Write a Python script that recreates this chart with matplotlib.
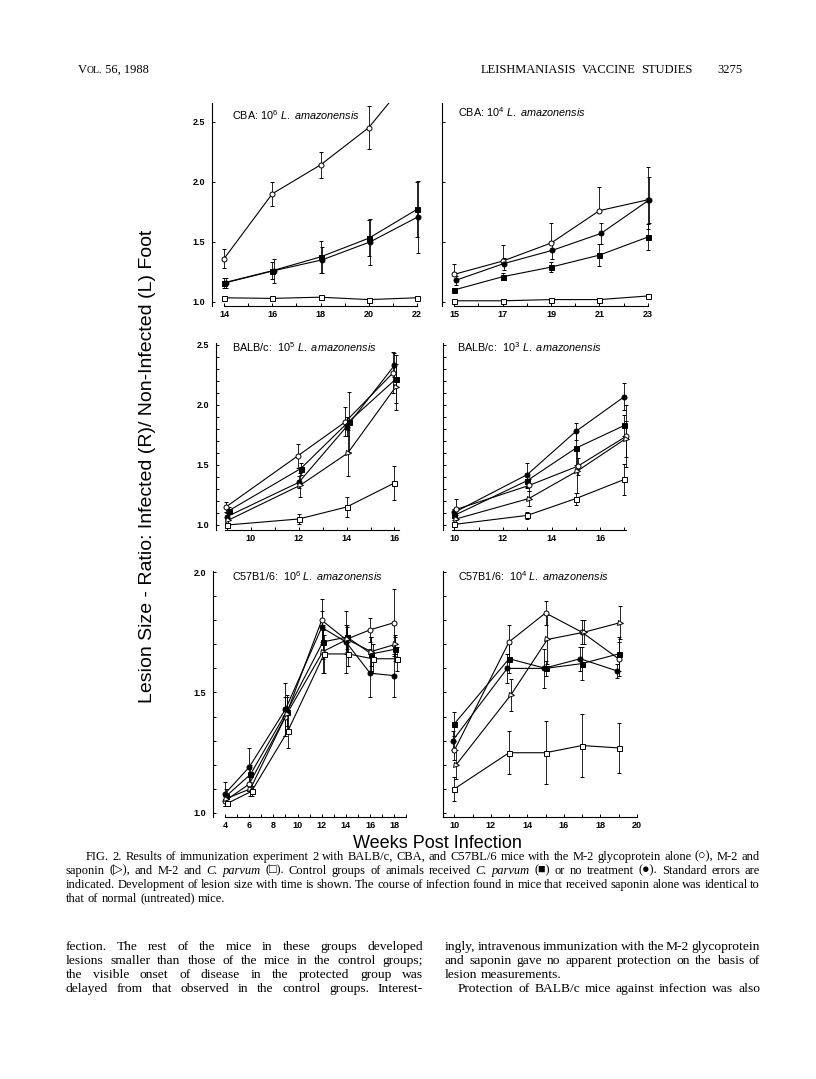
import matplotlib.pyplot as plt
from matplotlib.ticker import FixedLocator, MultipleLocator

plt.rcParams['font.family'] = ['Liberation Sans', 'DejaVu Sans']
plt.rcParams['mathtext.fontset'] = 'custom'
plt.rcParams['mathtext.rm'] = 'Liberation Sans'
plt.rcParams['mathtext.it'] = 'Liberation Sans:italic'

SERIF = ['Liberation Serif', 'DejaVu Sans']

# ---- data (ratio R/L foot, weeks post infection) ----
# CBA: 10^6
cba6_weeks = [14, 16, 18, 20, 22]
cba6_m2 = [1.36, 1.90, 2.14, 2.45, 2.94]
cba6_m2_err = [0.08, 0.10, 0.11, 0.18, 0.0]
cba6_cparvum = [1.16, 1.26, 1.375, 1.53, 1.77]
cba6_cparvum_err = [0.04, 0.07, 0.13, 0.15, 0.23]
cba6_none = [1.16, 1.26, 1.35, 1.50, 1.71]
cba6_none_err = [0.04, 0.10, 0.11, 0.19, 0.30]
cba6_m2cp = [1.035, 1.03, 1.04, 1.02, 1.035]
cba6_m2cp_err = [0.01, 0.005, 0.01, 0.01, 0.005]

# CBA: 10^4
cba4_weeks = [15, 17, 19, 21, 23]
cba4_m2 = [1.23, 1.34, 1.49, 1.76, 1.85]
cba4_m2_err = [[0, 0, 0, 0, 0.24], [0.09, 0.13, 0.17, 0.20, 0.27]]
cba4_none = [1.18, 1.32, 1.43, 1.57, 1.85]
cba4_none_err = [0.04, 0.05, 0.07, 0.09, 0.19]
cba4_cparvum = [1.10, 1.21, 1.29, 1.39, 1.54]
cba4_cparvum_err = [0.01, 0.03, 0.04, 0.09, 0.11]
cba4_m2cp = [1.01, 1.01, 1.02, 1.02, 1.05]
cba4_m2cp_err = [0.005, 0.005, 0.005, 0.005, 0.015]

# BALB/c: 10^5
balb5_weeks = [9, 12, 14, 16]
balb5_m2 = [1.15, 1.575, 1.86, 2.27]
balb5_m2_err = [0.04, 0.10, 0.12, 0.17]
balb5_cparvum = [1.12, 1.47, 1.86, 2.22]
balb5_cparvum_err = [0.03, 0.05, 0.25, 0.20]
balb5_none = [1.07, 1.355, 1.82, 2.33]
balb5_none_err = [0.03, 0.05, 0.08, 0.10]
balb5_sap = [1.04, 1.33, 1.60, 2.15]
balb5_sap_err = [0.02, 0.10, 0.19, 0.19]
balb5_m2cp = [1.00, 1.05, 1.15, 1.35]
balb5_m2cp_err = [0.01, 0.04, 0.08, 0.14]

# BALB/c: 10^3
balb3_weeks = [10, 13, 15, 17]
balb3_none = [1.105, 1.42, 1.78, 2.07]
balb3_none_err = [0.03, 0.10, 0.07, 0.11]
balb3_cparvum = [1.08, 1.37, 1.64, 1.83]
balb3_cparvum_err = [0.04, 0.06, 0.14, 0.09]
balb3_m2 = [1.13, 1.33, 1.49, 1.74]
balb3_m2_err = [0.09, 0.05, 0.07, 0.26]
balb3_sap = [1.05, 1.22, 1.45, 1.72]
balb3_sap_err = [0.03, 0.06, 0.18, 0.15]
balb3_m2cp = [1.005, 1.08, 1.22, 1.38]
balb3_m2cp_err = [0.005, 0.03, 0.05, 0.13]

# C57B1/6: 10^6
c57_6_weeks = [4, 6, 9, 12, 14, 16, 18]
c57_6_m2 = [1.05, 1.12, 1.40, 1.80, 1.72, 1.76, 1.79]
c57_6_m2_err = [0.02, 0.03, 0.08, 0.09, 0.06, 0.05, 0.14]
c57_6_none = [1.08, 1.19, 1.43, 1.77, 1.71, 1.58, 1.57]
c57_6_none_err = [0.05, 0.08, 0.11, 0.07, 0.13, 0.10, 0.09]
c57_6_cparvum = [1.07, 1.16, 1.42, 1.71, 1.73, 1.66, 1.68]
c57_6_cparvum_err = [0.03, 0.04, 0.06, 0.07, 0.05, 0.07, 0.05]
c57_6_sap = [1.06, 1.10, 1.41, 1.67, 1.72, 1.67, 1.70]
c57_6_sap_err = [0.02, 0.03, 0.08, 0.09, 0.05, 0.06, 0.04]
c57_6_m2cp = [1.04, 1.09, 1.34, 1.66, 1.66, 1.64, 1.64]
c57_6_m2cp_err = [0.01, 0.02, 0.07, 0.08, 0.05, 0.06, 0.05]

# C57B1/6: 10^4
c57_4_weeks = [10, 13, 15, 17, 19]
c57_4_m2 = [1.26, 1.71, 1.83, 1.75, 1.64]
c57_4_m2_err = [0.04, 0.07, 0.05, 0.05, 0.07]
c57_4_sap = [1.20, 1.49, 1.72, 1.75, 1.79]
c57_4_sap_err = [0.06, 0.065, 0.10, 0.05, 0.07]
c57_4_cparvum = [1.37, 1.64, 1.60, 1.62, 1.66]
c57_4_cparvum_err = [0.05, 0.06, 0.03, 0.07, 0.07]
c57_4_none = [1.30, 1.60, 1.60, 1.64, 1.59]
c57_4_none_err = [0.04, 0.06, 0.08, 0.05, 0.03]
c57_4_m2cp = [1.10, 1.25, 1.25, 1.28, 1.27]
c57_4_m2cp_err = [0.05, 0.09, 0.13, 0.13, 0.105]

# marker per treatment group
STYLE = {
    'm2': dict(marker='o', mfc='white'),
    'sap': dict(marker='>', mfc='white'),
    'm2cp': dict(marker='s', mfc='white'),
    'cparvum': dict(marker='s', mfc='black'),
    'none': dict(marker='o', mfc='black'),
}

W, H = 816, 1079
fig = plt.figure(figsize=(W / 100, H / 100), dpi=100)


def add_ax(left, top, right, bottom):
    return fig.add_axes([left / W, 1 - bottom / H, (right - left) / W, (bottom - top) / H])


panels = [
    dict(box=(212, 103, 429, 305.6), xlim=(13.5, 22.5), ylim=(0.97, 2.655), weeks=cba6_weeks,
         xticks=range(14, 23), xlab=[14, 16, 18, 20, 22], ylab=True, minor=False, xb=(14, 22),
         title=r'CBA: 10$^{6}$ $\mathit{L.\ amazonensis}$', tpos=(232, 115),
         series=[('m2', cba6_m2, cba6_m2_err, 0), ('cparvum', cba6_cparvum, cba6_cparvum_err, 0),
                 ('none', cba6_none, cba6_none_err, 0.06), ('m2cp', cba6_m2cp, cba6_m2cp_err, 0)]),
    dict(box=(442, 103, 660, 305.6), xlim=(14.5, 23.5), ylim=(0.97, 2.655), weeks=cba4_weeks,
         xticks=range(15, 24), xlab=[15, 17, 19, 21, 23], ylab=False, minor=False, xb=(15, 23),
         title=r'CBA: 10$^{4}$ $\mathit{L.\ amazonensis}$', tpos=(458, 112),
         series=[('m2', cba4_m2, cba4_m2_err, 0), ('none', cba4_none, cba4_none_err, 0.06),
                 ('cparvum', cba4_cparvum, cba4_cparvum_err, 0), ('m2cp', cba4_m2cp, cba4_m2cp_err, 0)]),
    dict(box=(216.3, 342.6, 406.4, 529.8), xlim=(8.55, 16.5), ylim=(0.96, 2.52), weeks=balb5_weeks,
         xticks=range(9, 17), xlab=[10, 12, 14, 16], ylab=True, minor=True, xb=(8.9, 16.2),
         title=r'BALB/c:  10$^{5}$ $\mathit{L.\ amazonensis}$', tpos=(232, 347),
         series=[('m2', balb5_m2, balb5_m2_err, -0.05), ('cparvum', balb5_cparvum, balb5_cparvum_err, 0.08),
                 ('none', balb5_none, balb5_none_err, 0), ('sap', balb5_sap, balb5_sap_err, 0.05),
                 ('m2cp', balb5_m2cp, balb5_m2cp_err, 0)]),
    dict(box=(443.4, 342.6, 631.7, 529.8), xlim=(9.55, 17.3), ylim=(0.96, 2.52), weeks=balb3_weeks,
         xticks=range(10, 18), xlab=[10, 12, 14, 16], ylab=False, minor=True, xb=(9.9, 17.05),
         title=r'BALB/c:  10$^{3}$ $\mathit{L.\ amazonensis}$', tpos=(457, 347),
         series=[('none', balb3_none, balb3_none_err, 0), ('cparvum', balb3_cparvum, balb3_cparvum_err, 0),
                 ('m2', balb3_m2, balb3_m2_err, 0.08), ('sap', balb3_sap, balb3_sap_err, 0.06),
                 ('m2cp', balb3_m2cp, balb3_m2cp_err, 0)]),
    dict(box=(212.9, 570.8, 410, 816.6), xlim=(3.0, 19.3), ylim=(0.985, 2.005), weeks=c57_6_weeks,
         xticks=range(4, 20), xlab=[4, 6, 8, 10, 12, 14, 16, 18], ylab=True, minor=True, xb=(4, 19),
         title=r'C57B1/6:  10$^{6}$ $\mathit{L.\ amazonensis}$', tpos=(232, 576),
         series=[('m2', c57_6_m2, c57_6_m2_err, 0), ('none', c57_6_none, c57_6_none_err, 0),
                 ('cparvum', c57_6_cparvum, c57_6_cparvum_err, 0.1), ('sap', c57_6_sap, c57_6_sap_err, 0.1),
                 ('m2cp', c57_6_m2cp, c57_6_m2cp_err, 0.2)]),
    dict(box=(443.4, 570.8, 640.4, 816.6), xlim=(9.4, 20.2), ylim=(0.985, 2.005), weeks=c57_4_weeks,
         xticks=range(10, 21), xlab=[10, 12, 14, 16, 18, 20], ylab=False, minor=True, xb=(9.4, 20),
         title=r'C57B1/6:  10$^{4}$ $\mathit{L.\ amazonensis}$', tpos=(458, 576),
         series=[('m2', c57_4_m2, c57_4_m2_err, 0), ('sap', c57_4_sap, c57_4_sap_err, 0.1),
                 ('cparvum', c57_4_cparvum, c57_4_cparvum_err, 0), ('none', c57_4_none, c57_4_none_err, -0.1),
                 ('m2cp', c57_4_m2cp, c57_4_m2cp_err, 0)]),
]

for p in panels:
    ax = add_ax(*p['box'])
    ax.patch.set_alpha(0)
    for key, y, err, dx in p['series']:
        xs = [w + dx for w in p['weeks']]
        ax.errorbar(xs, y, yerr=err, color='black', lw=0.8, ms=3.6, mec='black', mew=0.7,
                    capsize=1.6, elinewidth=0.6, capthick=0.6, **STYLE[key])
    ax.set_xlim(*p['xlim'])
    ax.set_ylim(*p['ylim'])
    for s in ['top', 'right']:
        ax.spines[s].set_visible(False)
    ax.spines['bottom'].set_bounds(*p['xb'])
    ax.spines['left'].set_linewidth(0.8)
    ax.spines['bottom'].set_linewidth(0.8)
    ax.xaxis.set_major_locator(FixedLocator(list(p['xticks'])))
    ax.set_xticklabels([str(t) if t in p['xlab'] else '' for t in p['xticks']])
    ax.yaxis.set_major_locator(MultipleLocator(0.5))
    if p['minor']:
        ax.yaxis.set_minor_locator(MultipleLocator(0.1))
    if not p['ylab']:
        ax.set_yticklabels([])
    ax.tick_params(direction='in', length=2.5, width=0.7, labelsize=6.5, pad=3)
    ax.tick_params(which='minor', direction='in', length=2.5, width=0.7)
    ax.tick_params(axis='y', pad=5)
    for lab in ax.get_xticklabels() + ax.get_yticklabels():
        lab.set_fontweight('bold')
    fig.text(p['tpos'][0] / W, 1 - p['tpos'][1] / H, p['title'], fontsize=7.8, va='center', ha='left')

fig.text(148 / W, 1 - 466 / H, 'Lesion Size - Ratio: Infected (R)/ Non-Infected (L) Foot',
         rotation=90, ha='center', va='center', fontsize=14)
fig.text(437 / W, 1 - 843 / H, 'Weeks Post Infection', ha='center', va='center', fontsize=13)

# ---- page text (y given as line centre, drawn on a common baseline) ----
renderer = fig.canvas.get_renderer()


def put_line(text, x0, x1, y, size, justify=True):
    base = 1 - (y + size * 0.3) / H
    items = []
    for tok in text.split():
        style = 'normal'
        if tok.startswith('*'):
            tok, style = tok[1:], 'italic'
        t = fig.text(0, base, tok, fontsize=size, family=SERIF, style=style, va='baseline')
        items.append((t, t.get_window_extent(renderer).width))
    total = sum(w for _, w in items)
    gap = (x1 - x0 - total) / (len(items) - 1) if justify and len(items) > 1 else size * 100 / 72 * 0.25
    x = x0
    for t, w in items:
        t.set_x(x / W)
        x += w + gap


def put_pieces(pieces, x, y):
    for txt, size in pieces:
        t = fig.text(x / W, 1 - (y + 2.7) / H, txt, fontsize=size, family=SERIF, va='baseline')
        x += t.get_window_extent(renderer).width


put_pieces([('V', 9), ('OL.', 7), (' 56, 1988', 9)], 78, 70)
put_line('LEISHMANIASIS VACCINE STUDIES', 481, 693, 70, 9)
put_line('3275', 717, 747, 70, 9, justify=False)

cap = 9.0
put_line('FIG. 2. Results of immunization experiment 2 with BALB/c, CBA, and C57BL/6 mice with the '
         'M-2 glycoprotein alone (○), M-2 and', 86, 760, 857, cap)
put_line('saponin (▷), and M-2 and *C. *parvum (□). Control groups of animals received *C. *parvum (■) '
         'or no treatment (●). Standard errors are', 66, 760, 871, cap)
put_line('indicated. Development of lesion size with time is shown. The course of infection found in mice '
         'that received saponin alone was identical to', 66, 760, 885, cap)
put_line('that of normal (untreated) mice.', 66, 760, 899, cap, justify=False)

body = 9.7
put_line('fection. The rest of the mice in these groups developed', 66, 423, 947, body)
put_line('lesions smaller than those of the mice in the control groups;', 66, 423, 961, body)
put_line('the visible onset of disease in the protected group was', 66, 423, 975, body)
put_line('delayed from that observed in the control groups. Interest-', 66, 423, 989, body)
put_line('ingly, intravenous immunization with the M-2 glycoprotein', 445, 760, 947, body)
put_line('and saponin gave no apparent protection on the basis of', 445, 760, 961, body)
put_line('lesion measurements.', 445, 760, 975, body, justify=False)
put_line('Protection of BALB/c mice against infection was also', 458, 760, 989, body)

fig.savefig('out.png', dpi=100)
